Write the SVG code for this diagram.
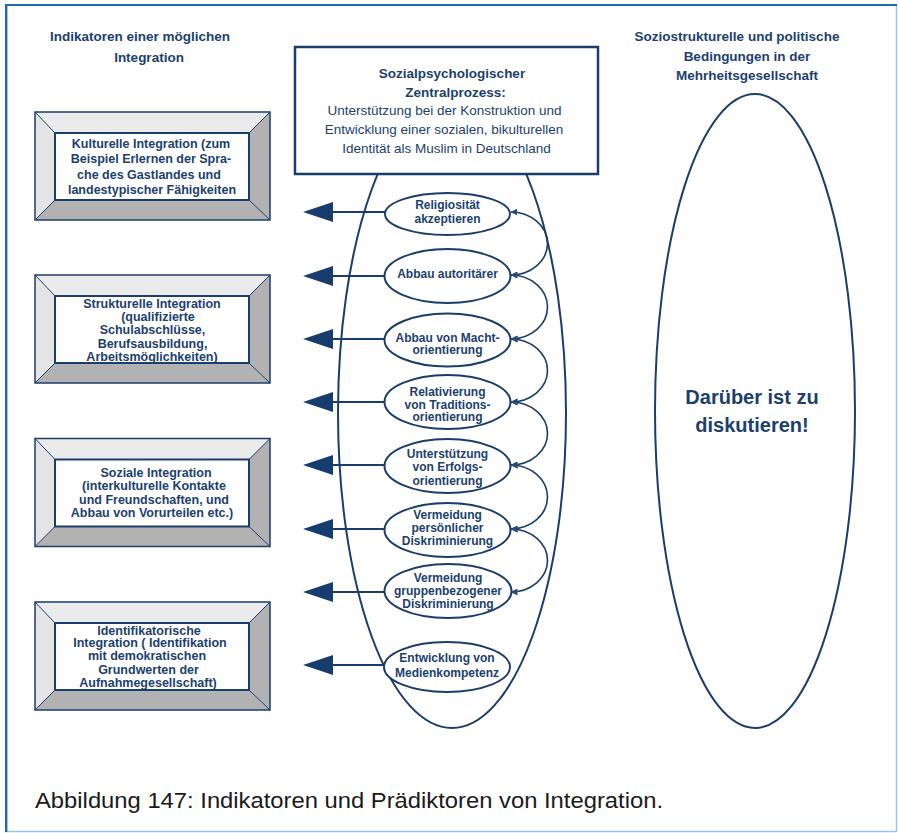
<svg xmlns="http://www.w3.org/2000/svg" xmlns:xlink="http://www.w3.org/1999/xlink" width="898" height="833" viewBox="0 0 898 833">
<style>
  text { font-family: "Liberation Sans", Arial, sans-serif; fill: #1c3f6e; text-anchor: middle; }
  .h { font-size: 13.5px; font-weight: bold; }
  .bx { font-size: 12.5px; font-weight: bold; }
  .el { font-size: 12px; font-weight: bold; }
  .ct { font-size: 13.5px; }
  .ctb { font-size: 13.5px; font-weight: bold; }
  .big { font-size: 20px; font-weight: bold; }
  .cap { font-size: 22px; fill: #1a1a1a; text-anchor: start; }
  .line { stroke: #1b3d6c; fill: none; }
  .small { fill: #ffffff; stroke: #1b3d6c; stroke-width: 2; }
  .arr { stroke: #1b3d6c; stroke-width: 2; fill: none; marker-end: url(#bigHead); }
  .loop { stroke: #1b3d6c; stroke-width: 1.6; fill: none; marker-start: url(#smallHead); marker-end: url(#smallHead); }
</style>
<defs>
  <marker id="bigHead" markerUnits="userSpaceOnUse" viewBox="0 0 30 20" markerWidth="30" markerHeight="20" refX="0" refY="10" orient="auto">
    <path d="M0,0 L30,10 L0,20 z" fill="#163d6d"/>
  </marker>
  <marker id="smallHead" markerUnits="userSpaceOnUse" viewBox="0 0 8 8" markerWidth="7" markerHeight="7" refX="8" refY="4" orient="auto-start-reverse">
    <path d="M0,0 L8,4 L0,8 z" fill="#2c4a75"/>
  </marker>
  <g id="bevel">
    <polygon points="35,0 270,0 249,21 55,21" fill="#ebebeb"/>
    <polygon points="35,0 55,21 55,88 35,108" fill="#e4e4e4"/>
    <polygon points="270,0 270,108 249,88 249,21" fill="#b2b2b2"/>
    <polygon points="35,108 55,88 249,88 270,108" fill="#b2b2b2"/>
    <rect x="35" y="0" width="235" height="108" fill="none" stroke="#1b3d6c" stroke-width="1.5"/>
    <path d="M35,0 L55,21 M270,0 L249,21 M35,108 L55,88 M270,108 L249,88" stroke="#1b3d6c" stroke-width="1"/>
    <rect x="55" y="21" width="194" height="67" fill="#ffffff" stroke="#1b3d6c" stroke-width="2"/>
  </g>
</defs>

<rect x="0" y="0" width="898" height="833" fill="#ffffff"/>
<!-- frame -->
<line x1="896.5" y1="4" x2="896.5" y2="832" stroke="#9cc3e6" stroke-width="1.5"/>
<line x1="5" y1="831.5" x2="897" y2="831.5" stroke="#9cc3e6" stroke-width="1.5"/>
<line x1="5" y1="5" x2="897" y2="5" stroke="#1e6bb0" stroke-width="2.2"/>
<line x1="6.2" y1="4" x2="6.2" y2="832" stroke="#1e6bb0" stroke-width="2.4"/>

<!-- headings -->
<g id="heading-left">
  <text class="h" x="140" y="41">Indikatoren einer möglichen</text>
  <text class="h" x="149" y="62">Integration</text>
</g>
<g id="heading-right">
  <text class="h" x="737" y="41">Soziostrukturelle und politische</text>
  <text class="h" x="747" y="60.5">Bedingungen in der</text>
  <text class="h" x="747" y="80">Mehrheitsgesellschaft</text>
</g>

<!-- large ellipses -->
<g id="central-ellipse">
  <ellipse cx="452" cy="413" rx="114" ry="315" fill="none" stroke="#1b3d6c" stroke-width="2"/>
</g>
<g id="right-ellipse">
  <ellipse cx="755" cy="411" rx="100" ry="317" fill="none" stroke="#1b3d6c" stroke-width="2"/>
  <text class="big" x="752" y="404">Darüber ist zu</text>
  <text class="big" x="752" y="432">diskutieren!</text>
</g>

<!-- central box -->
<g id="central-box">
  <rect x="295" y="47" width="303" height="127" fill="#ffffff" stroke="#1b3d6c" stroke-width="2.5"/>
  <text class="ctb" x="452" y="78">Sozialpsychologischer</text>
  <text class="ctb" x="455.5" y="96.5">Zentralprozess:</text>
  <text class="ct" x="444.5" y="115">Unterstützung bei der Konstruktion und</text>
  <text class="ct" x="444" y="134">Entwicklung einer sozialen, bikulturellen</text>
  <text class="ct" x="446.5" y="153">Identität als Muslim in Deutschland</text>
</g>

<!-- left boxes -->
<g id="box-kulturell">
  <use xlink:href="#bevel" y="112"/>
  <text class="bx" x="151" y="147.5">Kulturelle Integration (zum</text>
  <text class="bx" x="151" y="163">Beispiel Erlernen der Spra-</text>
  <text class="bx" x="149" y="178.5">che des Gastlandes und</text>
  <text class="bx" x="152" y="194">landestypischer Fähigkeiten</text>
</g>
<g id="box-strukturell">
  <use xlink:href="#bevel" y="275"/>
  <text class="bx" x="152" y="307.5">Strukturelle Integration</text>
  <text class="bx" x="158" y="320.5">(qualifizierte</text>
  <text class="bx" x="152.5" y="334">Schulabschlüsse,</text>
  <text class="bx" x="152.5" y="347.5">Berufsausbildung,</text>
  <text class="bx" x="152" y="361">Arbeitsmöglichkeiten)</text>
</g>
<g id="box-sozial">
  <use xlink:href="#bevel" y="438.5"/>
  <text class="bx" x="156" y="477">Soziale Integration</text>
  <text class="bx" x="154" y="490">(interkulturelle Kontakte</text>
  <text class="bx" x="154" y="503.5">und Freundschaften, und</text>
  <text class="bx" x="152" y="516.5">Abbau von Vorurteilen etc.)</text>
</g>
<g id="box-identifikatorisch">
  <use xlink:href="#bevel" y="602"/>
  <text class="bx" x="149" y="634.5">Identifikatorische</text>
  <text class="bx" x="150" y="647">Integration ( Identifikation</text>
  <text class="bx" x="147" y="660">mit demokratischen</text>
  <text class="bx" x="148.5" y="673.5">Grundwerten der</text>
  <text class="bx" x="148" y="686.5">Aufnahmegesellschaft)</text>
</g>

<!-- connectors -->
<g id="connectors">
  <line class="arr" x1="386" y1="212" x2="333" y2="212"/>
  <line class="arr" x1="385" y1="276" x2="333" y2="276"/>
  <line class="arr" x1="385" y1="339" x2="333" y2="339"/>
  <line class="arr" x1="385" y1="402" x2="333" y2="402"/>
  <line class="arr" x1="385" y1="465" x2="333" y2="465"/>
  <line class="arr" x1="385" y1="529" x2="333" y2="529"/>
  <line class="arr" x1="385" y1="592" x2="333" y2="592"/>
  <line class="arr" x1="385" y1="665" x2="333" y2="665"/>
  <path class="loop" d="M510.5,212 A37,31.5 0 0 1 510.5,275"/>
  <path class="loop" d="M510.5,275 A37,32 0 0 1 510.5,339"/>
  <path class="loop" d="M510.5,339 A37,31.5 0 0 1 510.5,402"/>
  <path class="loop" d="M510.5,402 A37,31.5 0 0 1 510.5,465"/>
  <path class="loop" d="M510.5,465 A37,32 0 0 1 510.5,529"/>
  <path class="loop" d="M510.5,529 A37,31.5 0 0 1 510.5,592"/>
</g>

<!-- small ellipses -->
<g id="n-religiositaet">
  <ellipse class="small" cx="447.5" cy="214" rx="62.5" ry="21"/>
  <text class="el" x="447.5" y="208.5">Religiosität</text>
  <text class="el" x="447.5" y="222.5">akzeptieren</text>
</g>
<g id="n-autoritaer">
  <ellipse class="small" cx="447.5" cy="276" rx="63" ry="27"/>
  <text class="el" x="447.5" y="277.5">Abbau autoritärer</text>
</g>
<g id="n-macht">
  <ellipse class="small" cx="447.5" cy="340" rx="63" ry="26.5"/>
  <text class="el" x="447.5" y="341.5">Abbau von Macht-</text>
  <text class="el" x="447.5" y="354">orientierung</text>
</g>
<g id="n-tradition">
  <ellipse class="small" cx="447.5" cy="402" rx="63" ry="27"/>
  <text class="el" x="447.5" y="396">Relativierung</text>
  <text class="el" x="447.5" y="408.5">von Traditions-</text>
  <text class="el" x="447.5" y="421">orientierung</text>
</g>
<g id="n-erfolg">
  <ellipse class="small" cx="447.5" cy="466" rx="63" ry="27"/>
  <text class="el" x="447.5" y="457.5">Unterstützung</text>
  <text class="el" x="447.5" y="471">von Erfolgs-</text>
  <text class="el" x="447.5" y="484.5">orientierung</text>
</g>
<g id="n-persoenlich">
  <ellipse class="small" cx="447.5" cy="530" rx="63" ry="27"/>
  <text class="el" x="447.5" y="518.5">Vermeidung</text>
  <text class="el" x="447.5" y="531.5">persönlicher</text>
  <text class="el" x="447.5" y="544.5">Diskriminierung</text>
</g>
<g id="n-gruppe">
  <ellipse class="small" cx="448" cy="591" rx="63.5" ry="27"/>
  <text class="el" x="448" y="581.5">Vermeidung</text>
  <text class="el" x="448" y="595">gruppenbezogener</text>
  <text class="el" x="448" y="608">Diskriminierung</text>
</g>
<g id="n-medien">
  <ellipse class="small" cx="447" cy="667" rx="63" ry="25"/>
  <text class="el" x="447" y="661.5">Entwicklung von</text>
  <text class="el" x="447" y="676.5">Medienkompetenz</text>
</g>

<!-- caption -->
<text class="cap" x="35" y="808" textLength="628" lengthAdjust="spacingAndGlyphs">Abbildung 147: Indikatoren und Prädiktoren von Integration.</text>
</svg>
